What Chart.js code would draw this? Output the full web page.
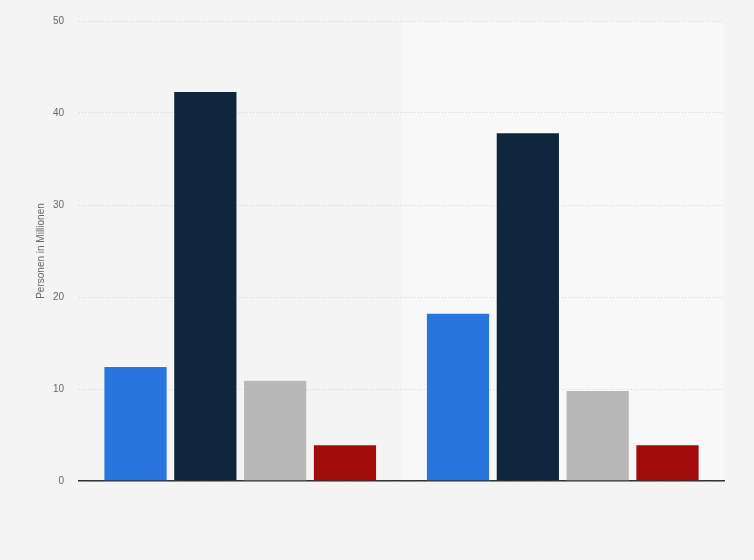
<!DOCTYPE html>
<html>
<head>
<meta charset="utf-8">
<script src="https://cdn.jsdelivr.net/npm/chart.js@4"></script>
<style>
  html, body { margin: 0; padding: 0; background: #f4f4f4; }
  #wrap { width: 754px; height: 560px; }
</style>
</head>
<body>
<div id="wrap"><canvas id="myChart"></canvas></div>
<script>
const categories = ['Kategorie 1', 'Kategorie 2'];
const seriesA = [12.5, 18.3];
const seriesB = [42.4, 37.9];
const seriesC = [11.0, 9.9];
const seriesD = [4.0, 4.0];
const yTicks = [0, 10, 20, 30, 40, 50];

// lighter background behind the second category
const bandPlugin = {
    id: 'band',
    beforeDraw(chart) {
        const x = chart.scales.x;
        const area = chart.chartArea;
        const half = (x.getPixelForValue(1) - x.getPixelForValue(0)) / 2;
        const c = chart.ctx;
        c.save();
        c.fillStyle = '#f8f8f8';
        c.fillRect(x.getPixelForValue(1) - half, area.top, half * 2, area.bottom - area.top);
        c.restore();
    }
};

const ctx = document.getElementById('myChart');

new Chart(ctx, {
    type: 'bar',
    data: {
        labels: categories,
        datasets: [
            { label: 'A', data: seriesA, backgroundColor: '#2876dd' },
            { label: 'B', data: seriesB, backgroundColor: '#10263d' },
            { label: 'C', data: seriesC, backgroundColor: '#b8b8b8' },
            { label: 'D', data: seriesD, backgroundColor: '#a30a0a' }
        ]
    },
    options: {
        responsive: true,
        maintainAspectRatio: false,
        animation: false,
        datasets: {
            bar: {
                categoryPercentage: 0.866,
                barPercentage: 0.92,
                borderWidth: 1,
                borderColor: 'rgba(255,255,255,0.35)'
            }
        },
        layout: { padding: { left: 35, right: 30, top: 14, bottom: 79 } },
        plugins: {
            legend: { display: false },
            tooltip: { enabled: false }
        },
        scales: {
            x: {
                ticks: { display: false },
                grid: { display: false, drawTicks: false },
                border: { display: true, color: '#333333', width: 1.5 }
            },
            y: {
                min: 0,
                max: 50,
                afterBuildTicks(axis) {
                    axis.ticks = yTicks.map(v => ({ value: v }));
                },
                afterFit(axis) { axis.width = 44; },
                ticks: {
                    color: '#666666',
                    padding: 15,
                    font: { family: 'Liberation Sans, Arial, sans-serif', size: 10 }
                },
                grid: {
                    color: '#d4d4d4',
                    drawTicks: false
                },
                border: { display: false, dash: [1, 2] },
                title: {
                    display: true,
                    text: 'Personen in Millionen',
                    color: '#666666',
                    padding: 0,
                    font: { family: 'Liberation Sans, Arial, sans-serif', size: 10 }
                }
            }
        }
    },
    plugins: [bandPlugin]
});
</script>
</body>
</html>
